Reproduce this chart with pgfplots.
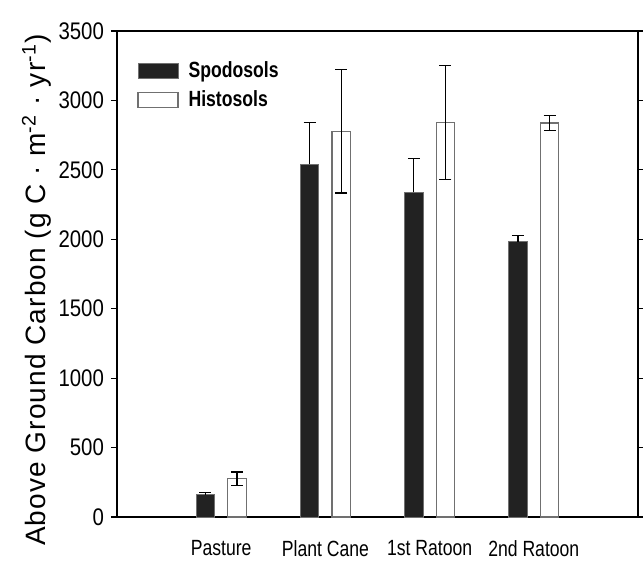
\documentclass[border=0pt]{standalone}
\usepackage{fontspec}
\setmainfont{Liberation Sans}
\newfontfamily\narrowfont[FakeStretch=0.8]{Liberation Sans}
\newfontfamily\tickfont[FakeStretch=0.85]{Liberation Sans}
\newfontfamily\labelfont[LetterSpace=4]{Liberation Sans}
\usepackage{pgfplots}
\pgfplotsset{compat=1.18}
\definecolor{barblack}{HTML}{222222}
\definecolor{edgegray}{HTML}{707070}
\pgfplotsset{boxlegend/.style={legend image code/.code={\draw[##1] (0pt,-3.8pt) rectangle (20pt,3.7pt);}}}

\begin{document}
\begin{tikzpicture}
\begin{axis}[
  width=260.5pt, height=243pt, scale only axis,
  ybar, bar width=9.25pt,
  xmin=0, xmax=5, ymin=0, ymax=3500,
  xtick={1,2,3,4},
  xticklabels={Pasture, Plant Cane, 1st Ratoon, 2nd Ratoon},
  ytick distance=500,
  tick align=outside, major tick length=3pt,
  xtick style={draw=none},
  ytick style={line width=0.6pt, black},
  axis line style={line width=0.75pt},
  /pgf/number format/1000 sep={},
  /pgf/number format/assume math mode=true,
  yticklabel style={font=\tickfont\fontsize{12}{14}\selectfont},
  xticklabel style={font=\narrowfont\fontsize{11}{13}\selectfont, yshift=-5pt},
  ylabel={Above Ground Carbon (g C · m\textsuperscript{-2} · yr\textsuperscript{-1})},
  every axis y label/.style={at={(axis description cs:-0.1363,0.467)}, rotate=90, anchor=base, font=\labelfont\fontsize{14}{17}\selectfont},
  legend style={draw=none, fill=none, inner sep=0pt, at={(axis description cs:0.0384,0.888)}, anchor=west,
    font=\narrowfont\bfseries\fontsize{11}{13}\selectfont, row sep=4.7pt, column sep=5pt, nodes={inner sep=0pt}},
  legend cell align=left,
]
\addplot[fill=barblack, draw=edgegray, line width=0.5pt, bar shift=-7.9pt, boxlegend,
  error bars/.cd, y dir=plus, y explicit,
  error bar style={line width=0.6pt, black},
  error mark options={rotate=90, mark size=3pt, line width=0.6pt, black}]
  coordinates {(1,160) +- (0,15) (2,2540) +- (0,300) (3,2338) +- (0,245) (4,1983) +- (0,43)};
\addlegendentry{Spodosols}
\addplot[fill=white, draw=edgegray, line width=0.6pt, bar shift=7.9pt, boxlegend,
  error bars/.cd, y dir=both, y explicit,
  error bar style={line width=0.6pt, black},
  error mark options={rotate=90, mark size=3pt, line width=0.6pt, black}]
  coordinates {(1,276) +- (0,48) (2,2778) +- (0,445) (3,2842) +- (0,410) (4,2838) +- (0,52)};
\addlegendentry{Histosols}
\end{axis}
\pgfresetboundingbox
\path[use as bounding box] (-58.5pt,-23pt) rectangle (263pt,258.5pt);
\end{tikzpicture}
\end{document}
